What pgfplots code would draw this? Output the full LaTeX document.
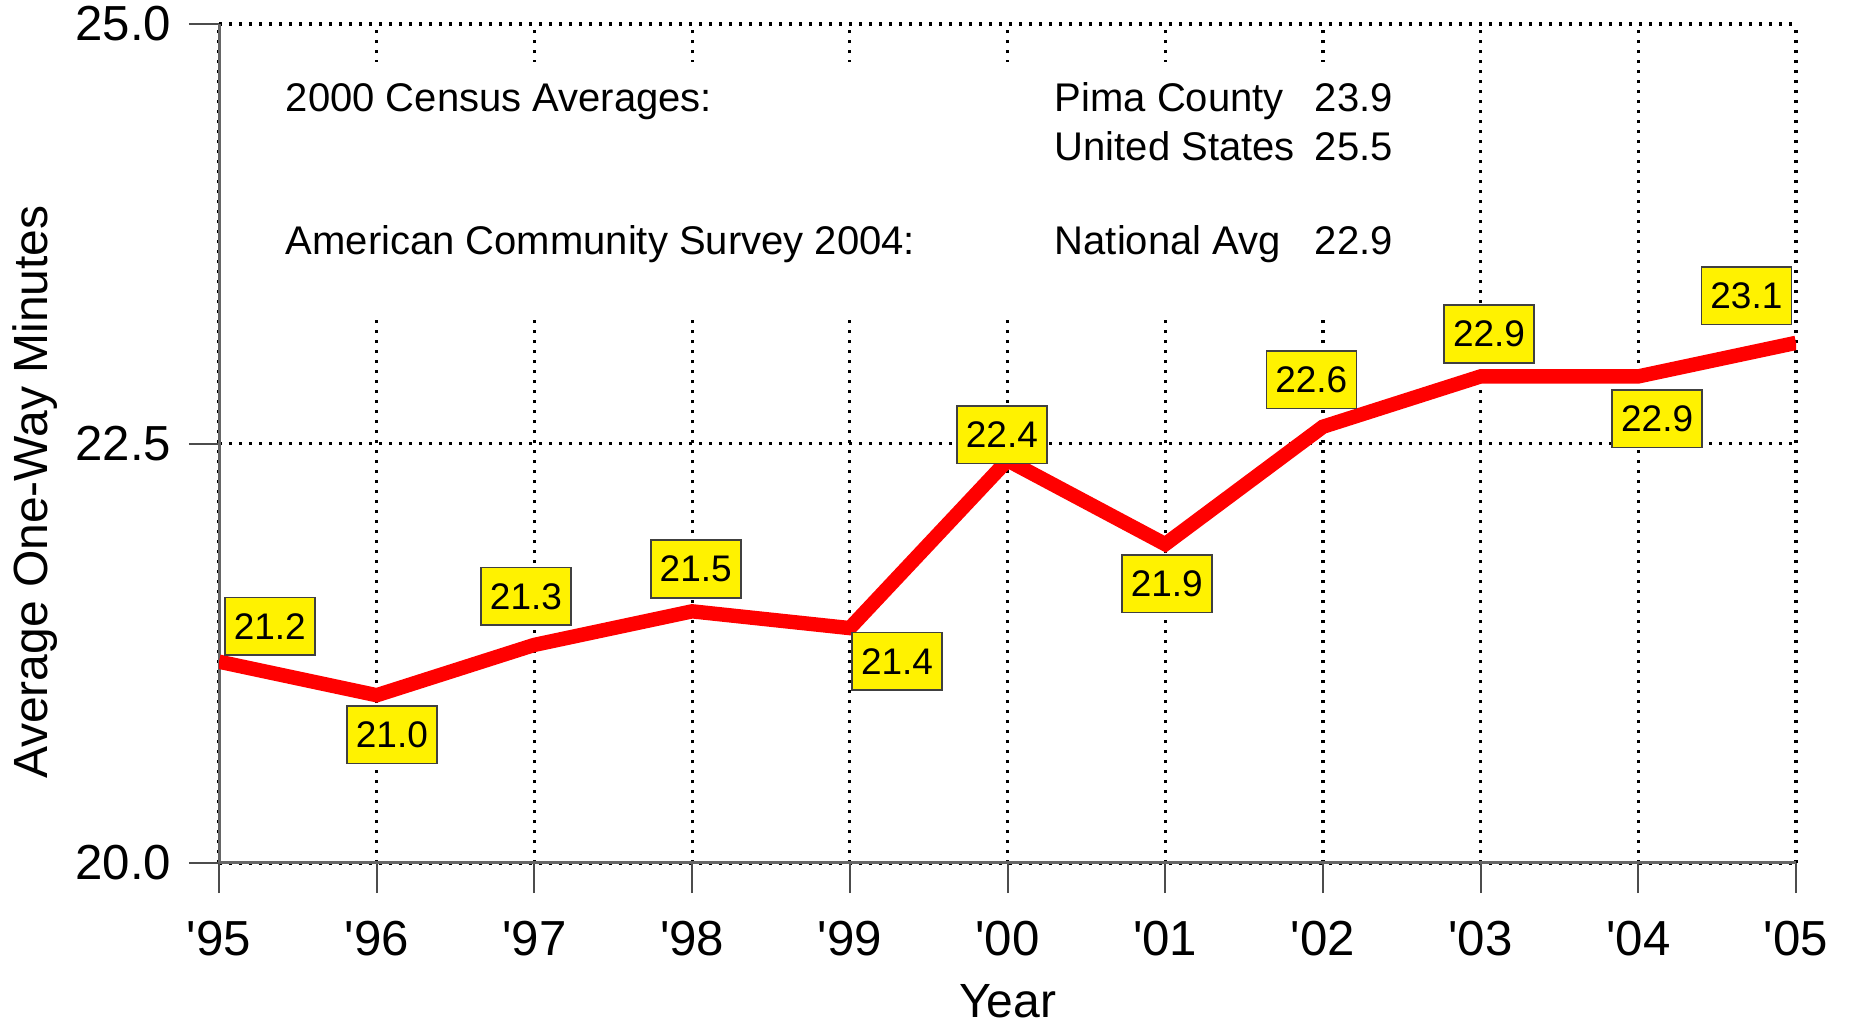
\documentclass[border=0pt]{standalone}
\usepackage{fontspec}
\setmainfont{Liberation Sans}
\usepackage{pgfplots}
\pgfplotsset{compat=1.18}

\tikzset{
  lab/.style={draw=black!75, line width=0.4pt, fill=yellow,
              font=\fontsize{9.25}{11}\selectfont,
              minimum width=22.5pt, minimum height=14.4pt, inner sep=0pt},
  note/.style={anchor=base west, inner sep=0pt, font=\fontsize{10}{12}\selectfont}
}

\begin{document}
\begin{tikzpicture}
\begin{axis}[
  scale only axis,
  width=394.25pt, height=209.75pt,
  xmin=0, xmax=10, ymin=20, ymax=25,
  xtick={0,...,10},
  xticklabels={\textquotesingle 95,\textquotesingle 96,\textquotesingle 97,\textquotesingle 98,\textquotesingle 99,\textquotesingle 00,\textquotesingle 01,\textquotesingle 02,\textquotesingle 03,\textquotesingle 04,\textquotesingle 05},
  ytick={20,22.5,25},
  yticklabels={20.0,22.5,25.0},
  axis x line=bottom, axis y line=left,
  axis line style={-, draw=gray!80!black, line width=0.6pt},
  tick align=outside,
  major tick length=7.5pt,
  tick style={draw=gray!60!black, line width=0.5pt},
  grid=major,
  grid style={black, line width=0.8pt, dash pattern=on 0.8pt off 1.7pt},
  tick label style={font=\fontsize{12.3}{14}\selectfont},
  xticklabel style={anchor=base, inner sep=0pt, yshift=-15.5pt},
  yticklabel style={anchor=east, inner sep=0pt, xshift=-4.25pt},
  xlabel={Year},
  xlabel style={at={(rel axis cs:0.5,0)}, anchor=base, yshift=-38.5pt, font=\fontsize{12}{14}\selectfont},
  ylabel={Average One-Way Minutes},
  ylabel style={at={(rel axis cs:0,0.442)}, anchor=center, yshift=46pt, font=\fontsize{12}{14}\selectfont},
]
\coordinate (o) at (rel axis cs:0,0);

% solid axis lines over the grid lines at 20.0 and '95
\draw[gray!80!black, line width=1.2pt] (rel axis cs:0,1) -- (rel axis cs:0,0) -- (rel axis cs:1,0);

% white panel behind the census notes
\fill[white] (rel axis cs:0.02,0.6472) rectangle (rel axis cs:0.7616,0.9547);
\node[note] at (rel axis cs:0.0419,0.896) {2000 Census Averages:};
\node[note] at (rel axis cs:0.0419,0.7256) {American Community Survey 2004:};
\node[note] at (rel axis cs:0.5295,0.896) {Pima County};
\node[note] at (rel axis cs:0.5295,0.837) {United States};
\node[note] at (rel axis cs:0.5295,0.7256) {National Avg};
\node[note] at (rel axis cs:0.6944,0.896) {23.9};
\node[note] at (rel axis cs:0.6944,0.837) {25.5};
\node[note] at (rel axis cs:0.6944,0.7256) {22.9};

\addplot[red, line width=3.6pt, line join=miter, mark=none] coordinates {
  (0,21.2) (1,21.0) (2,21.3) (3,21.5) (4,21.4) (5,22.4)
  (6,21.9) (7,22.6) (8,22.9) (9,22.9) (10,23.1)
};

\node[lab, xshift=12.7pt,  yshift=8.8pt]   at (axis cs:0,21.2)  {21.2};
\node[lab, xshift=3.8pt,   yshift=-9.9pt]  at (axis cs:1,21.0)  {21.0};
\node[lab, xshift=-2.1pt,  yshift=12.1pt]  at (axis cs:2,21.3)  {21.3};
\node[lab, xshift=0.9pt,   yshift=10.6pt]  at (axis cs:3,21.5)  {21.5};
\node[lab, xshift=11.8pt,  yshift=-8.3pt]  at (axis cs:4,21.4)  {21.4};
\node[lab, xshift=-1.4pt,  yshift=6.4pt]   at (axis cs:5,22.4)  {22.4};
\node[lab, xshift=0.4pt,   yshift=-9.9pt]  at (axis cs:6,21.9)  {21.9};
\node[lab, xshift=-2.9pt,  yshift=11.8pt]  at (axis cs:7,22.6)  {22.6};
\node[lab, xshift=2.1pt,   yshift=10.6pt]  at (axis cs:8,22.9)  {22.9};
\node[lab, xshift=4.7pt,   yshift=-10.6pt] at (axis cs:9,22.9)  {22.9};
\node[lab, xshift=-12.4pt, yshift=11.8pt]  at (axis cs:10,23.1) {23.1};
\end{axis}
\pgfresetboundingbox
\path[use as bounding box] ([shift={(-54.75pt,-39.5pt)}]o) rectangle ([shift={(407.5pt,215.75pt)}]o);
\end{tikzpicture}
\end{document}
